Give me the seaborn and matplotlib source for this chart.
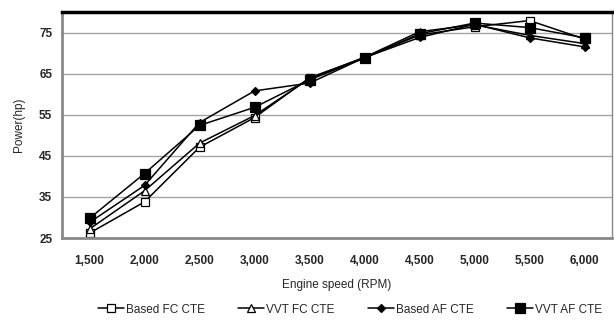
import pandas as pd
import numpy as np
import matplotlib
matplotlib.use('Agg')
import matplotlib.pyplot as plt
import seaborn as sns
from matplotlib.ticker import FuncFormatter

# Data
rpm = [1500, 2000, 2500, 3000, 3500, 4000, 4500, 5000, 5500, 6000]
based_fc = [26.2, 33.8, 47.1, 54.3, 64.0, 68.9, 74.4, 76.4, 77.9, 73.4]
vvt_fc = [27.2, 36.5, 48.1, 54.8, 63.8, 69.0, 75.2, 76.9, 74.3, 72.3]
based_af = [28.8, 37.8, 53.1, 60.8, 62.7, 68.9, 73.8, 77.0, 73.7, 71.5]
vvt_af = [29.8, 40.7, 52.4, 56.8, 63.5, 68.8, 74.7, 77.3, 76.2, 73.7]

labels = ['Based FC CTE', 'VVT FC CTE', 'Based AF CTE', 'VVT AF CTE']
series = [based_fc, vvt_fc, based_af, vvt_af]
markers = ['s', '^', 'D', 's']
faces = ['white', 'white', 'black', 'black']
sizes = [6, 6, 4.2, 6.5]

sns.set_style('white')
plt.rcParams['font.family'] = ['Liberation Sans', 'DejaVu Sans']

fig = plt.figure(figsize=(6.14, 3.23), dpi=100)
ax = fig.add_axes([0.101, 0.263, 0.896, 0.700])

for lab, vals, m, fc, ms in zip(labels, series, markers, faces, sizes):
    df = pd.DataFrame({'rpm': rpm, 'power': vals})
    sns.lineplot(data=df, x='rpm', y='power', ax=ax, color='black',
                 linewidth=1.1, marker=m, markersize=ms,
                 markerfacecolor=fc, markeredgecolor='black',
                 markeredgewidth=0.9, label=lab)

ax.set_xlim(1250, 6250)
ax.set_ylim(25, 80)
ax.set_xticks(rpm)
ax.xaxis.set_major_formatter(FuncFormatter(lambda v, p: f'{int(v):,}'))
ax.set_yticks([25, 35, 45, 55, 65, 75])
ax.yaxis.grid(True, color='#a5a5a5', linewidth=1.0)
ax.set_axisbelow(True)

for lbl in ax.get_xticklabels() + ax.get_yticklabels():
    lbl.set_fontweight('bold')
    lbl.set_fontsize(8.5)
ax.tick_params(axis='x', length=0, pad=12)
ax.tick_params(axis='y', length=4, width=1, color='#9a9a9a', pad=3)

ax.spines['top'].set_color('black')
ax.spines['top'].set_linewidth(2.5)
ax.spines['left'].set_color('#8a8a8a')
ax.spines['left'].set_linewidth(2)
ax.spines['bottom'].set_color('#8a8a8a')
ax.spines['bottom'].set_linewidth(2)
ax.spines['right'].set_color('#8a8a8a')
ax.spines['right'].set_linewidth(1)

ax.set_xlabel('Engine speed (RPM)', fontsize=8.5, labelpad=9)
ax.set_ylabel('Power(hp)', fontsize=8.5, labelpad=10)

handles, labs = ax.get_legend_handles_labels()
ax.legend_.remove()
fig.legend(handles, labs, loc='lower center', bbox_to_anchor=(0.57, -0.01),
           ncol=4, frameon=False, fontsize=8.5, handlelength=2.2,
           handletextpad=0.2, columnspacing=2.8)

fig.savefig('out.png', dpi=100)
